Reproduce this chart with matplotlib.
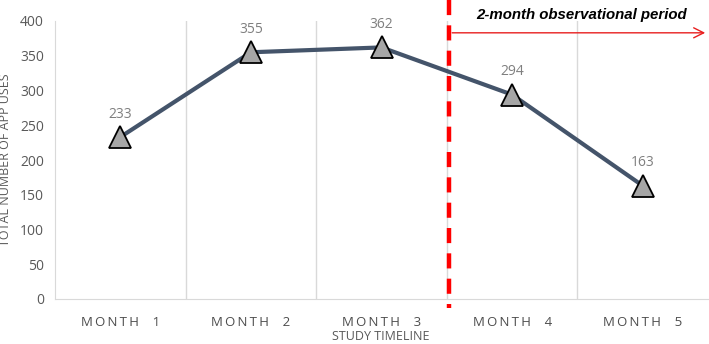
import matplotlib
matplotlib.use("Agg")
import matplotlib.pyplot as plt
from matplotlib.lines import Line2D

months = ["MONTH 1", "MONTH 2", "MONTH 3", "MONTH 4", "MONTH 5"]
uses = [233, 355, 362, 294, 163]
yticks = [0, 50, 100, 150, 200, 250, 300, 350, 400]

plt.rcParams['font.family'] = ['Open Sans', 'DejaVu Sans']

W, H = 709, 344
fig = plt.figure(figsize=(W/100, H/100), dpi=100)
ax = fig.add_axes([55/W, (H-299)/H, (708-55)/W, (299-21)/H])

x = list(range(len(months)))
ax.plot(x, uses, color='#44546A', lw=3, marker='^', markersize=16,
        markerfacecolor='#A6A6A6', markeredgecolor='black', markeredgewidth=1.3, zorder=3)
for xi, v in zip(x, uses):
    ax.annotate(str(v), (xi, v), xytext=(0, 11), textcoords='offset points',
                ha='center', va='bottom', fontsize=10, color='#7F7F7F')

ax.set_xlim(-0.5, len(months) - 0.5)
ax.set_ylim(0, 400)
ax.set_yticks(yticks)
ax.set_xticks(x)
spaced = ["\u2009".join(list(m.replace(" ", "  "))) for m in months]
ax.set_xticklabels(spaced)
ax.tick_params(axis='x', length=0, pad=12, labelsize=9.5, labelcolor='#4D4D4D')
ax.tick_params(axis='y', length=0, pad=8, labelsize=10, labelcolor='#595959')

for b in [0.5, 1.5, 2.5, 3.5]:
    ax.axvline(b, color='#D9D9D9', lw=1, zorder=1)
for s in ['top', 'right']:
    ax.spines[s].set_visible(False)
for s in ['left', 'bottom']:
    ax.spines[s].set_color('#D9D9D9')

fig.text(381/W, (H-336)/H, "STUDY TIMELINE", ha='center', va='center',
         fontsize=9, color='#595959')
ax.set_ylabel("TOTAL NUMBER OF APP USES", fontsize=9, color='#595959', labelpad=6)

# red dashed divider
fig.add_artist(Line2D([449/W, 449/W], [1.0, (H-308)/H], color='#FF0000', lw=3.2,
                      linestyle=(0, (3.4, 2.3)), zorder=5))
# arrow
ax.annotate("", xy=(4.5, 383), xytext=(2.52, 383),
            arrowprops=dict(arrowstyle='->', color='#E81E1E', lw=1, mutation_scale=18),
            annotation_clip=False)
ax.text(3.53, 409, "2-month observational period", ha='center', va='center',
        fontsize=10.8, fontweight='bold', fontstyle='italic', family=['Liberation Sans'],
        clip_on=False)

fig.savefig("out.png", dpi=100)
